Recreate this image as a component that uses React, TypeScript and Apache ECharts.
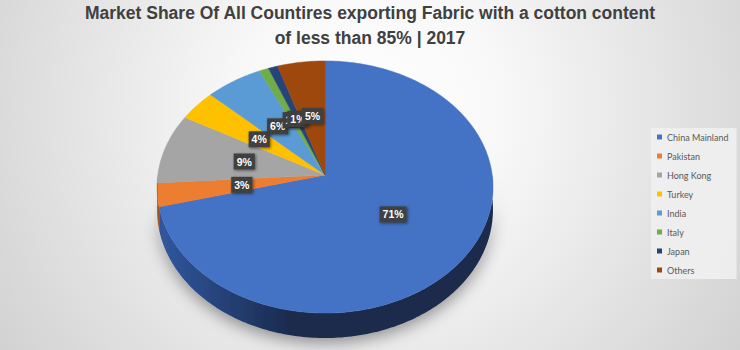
import React, { useEffect, useRef } from "react";
import * as echarts from "echarts";

// ---- data ----
const categories = ["China Mainland", "Pakistan", "Hong Kong", "Turkey", "India", "Italy", "Japan", "Others"];
const shares = [71, 3, 9, 4, 6, 1, 1, 5];
const colors = ["#4472C4", "#ED7D31", "#A5A5A5", "#FFC000", "#5B9BD5", "#70AD47", "#264478", "#9E480E"];
const sideColorsLight = ["#3157a0", "#c0641f", "#8a8a8a", "#d9a300", "#477fb3", "#5a8f38", "#1c345c", "#7f390a"];
const sideColorsDark = ["#1a2a4c", "#a4521a", "#707070", "#b88a00", "#3a6a98", "#4b7a2e", "#16294a", "#6a2f08"];
const titleLines = [
  "Market Share Of All Countires exporting Fabric with a cotton content",
  "of less than 85% | 2017",
];

// ---- layout (perspective pie) ----
const CX = 325;
const CY = 175;
const RX = 167.2;
const RY = 124.9;
const K = 0.0952;
const DEPTH = 22.6;
const LABEL_FRAC = 0.5;

const total = shares.reduce((a, b) => a + b, 0);
const starts: number[] = [];
shares.reduce((acc, v, i) => {
  starts[i] = acc;
  return acc + v;
}, 0);

function project(theta: number, f: number, drop: number): number[] {
  const u = Math.cos(theta) * f;
  const v = -Math.sin(theta) * f;
  const s = 1 / (1 - K * v);
  return [CX + RX * u * s, CY + (RY * v + drop) * s];
}

function arc(a: number, b: number, drop: number): number[][] {
  const pts: number[][] = [];
  const n = Math.max(2, Math.ceil(Math.abs(a - b) / (Math.PI / 180)));
  for (let j = 0; j <= n; j++) {
    const t = a + ((b - a) * j) / n;
    pts.push(project(t, 1, drop));
  }
  return pts;
}

function makeRenderItem(i: number) {
  return (params: any, api: any) => {
    const value = api.value(0) as number;
    const th0 = Math.PI / 2 - (2 * Math.PI * starts[i]) / total;
    const th1 = th0 - (2 * Math.PI * value) / total;
    const children: any[] = [];
    const a = Math.min(th0, 0);
    const b = Math.max(th1, -Math.PI);
    if (a > b) {
      const top = arc(a, b, 0);
      const bottom = arc(b, a, DEPTH);
      children.push({
        type: "polygon",
        shape: { points: top.concat(bottom) },
        style: {
          fill: new echarts.graphic.LinearGradient(0, 0, 1, 0, [
            { offset: 0, color: sideColorsLight[i] },
            { offset: 0.4, color: sideColorsDark[i] },
            { offset: 1, color: sideColorsDark[i] },
          ]),
          shadowBlur: 16,
          shadowColor: "rgba(0,0,0,0.4)",
          shadowOffsetY: 5,
        },
      });
    }
    const face = [[CX, CY]].concat(arc(th0, th1, 0));
    children.push({
      type: "polygon",
      shape: { points: face },
      style: { fill: colors[i], stroke: colors[i], lineWidth: 0.5 },
    });
    const mid = (th0 + th1) / 2;
    const lp = project(mid, LABEL_FRAC, 0);
    children.push({
      type: "text",
      x: lp[0],
      y: lp[1],
      z2: 100,
      style: {
        text: `${value}%`,
        fill: "#ffffff",
        fontSize: 10.5,
        fontWeight: "bold",
        fontFamily: '"Liberation Sans", sans-serif',
        backgroundColor: "#404040",
        padding: [3, 3, 2, 3],
        align: "center",
        verticalAlign: "middle",
        shadowBlur: 3,
        shadowColor: "rgba(0,0,0,0.5)",
        shadowOffsetX: 1,
        shadowOffsetY: 1,
      },
    });
    return { type: "group", children };
  };
}

export default function App() {
  const ref = useRef<HTMLDivElement>(null);
  useEffect(() => {
    document.body.style.margin = "0";
    const chart = echarts.init(ref.current!, null, { renderer: "svg" });
    const series = categories.map((name, i) => ({
      type: "custom",
      name,
      coordinateSystem: "none",
      itemStyle: { color: colors[i] },
      data: [[shares[i]]],
      renderItem: makeRenderItem(i),
    }));
    chart.setOption({
      animation: false,
      graphic: [
        {
          type: "rect",
          z: -10,
          silent: true,
          shape: { x: 0, y: 0, width: 740, height: 350 },
          style: {
            fill: new echarts.graphic.RadialGradient(
              370,
              110,
              440,
              [
                { offset: 0, color: "#ffffff" },
                { offset: 0.3, color: "#f8f8f8" },
                { offset: 1, color: "#d2d2d2" },
              ],
              true
            ),
          },
        },
      ],
      title: {
        text: titleLines.join("\n"),
        left: "center",
        top: 0,
        padding: 0,
        textStyle: {
          fontSize: 17.5,
          fontWeight: "bold",
          color: "#404040",
          lineHeight: 25,
          fontFamily: '"Liberation Sans", sans-serif',
        },
      },
      legend: {
        orient: "vertical",
        left: 651,
        top: 128,
        icon: "rect",
        itemWidth: 5,
        itemHeight: 5,
        itemGap: 7,
        padding: [3, 8, 3, 6],
        backgroundColor: "rgba(240,240,240,0.9)",
        textStyle: {
          fontSize: 9,
          color: "#595959",
          lineHeight: 12,
          fontFamily: '"Lato", sans-serif',
        },
        data: categories,
      },
      series,
    });
    return () => chart.dispose();
  }, []);
  return <div ref={ref} style={{ width: 740, height: 350 }} />;
}
